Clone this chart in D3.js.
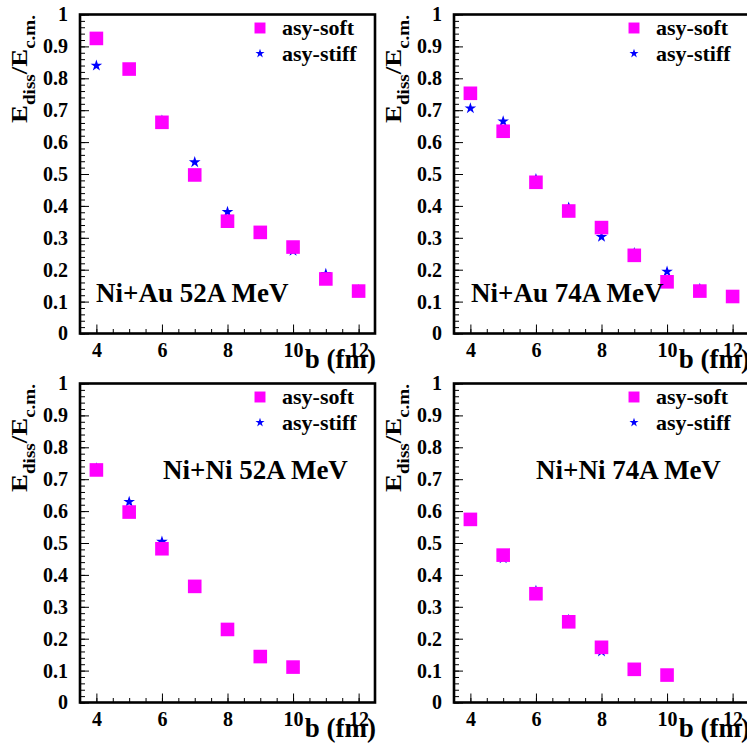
<!DOCTYPE html>
<html>
<head>
<meta charset="utf-8">
<script src="https://cdn.jsdelivr.net/npm/d3@7"></script>
</head>
<body style="margin:0;background:#fff">
<svg id="chart" width="747" height="753" font-family="Liberation Serif" font-weight="bold" style="display:block"></svg>
<script>
// impact parameter b (fm)
const impactAu = [4, 5, 6, 7, 8, 9, 10, 11, 12];
const impactNi = [4, 5, 6, 7, 8, 9, 10];

// E_diss / E_c.m.
const niAu52Soft  = [0.925, 0.829, 0.662, 0.497, 0.352, 0.317, 0.271, 0.171, 0.133];
const niAu52Stiff = [0.840, 0.826, 0.667, 0.537, 0.381, 0.318, 0.259, 0.187, 0.136];
const niAu74Soft  = [0.753, 0.634, 0.474, 0.384, 0.332, 0.245, 0.162, 0.133, 0.116];
const niAu74Stiff = [0.706, 0.665, 0.484, 0.395, 0.303, 0.252, 0.194, 0.140, 0.112];
const niNi52Soft  = [0.729, 0.597, 0.482, 0.364, 0.229, 0.144, 0.111];
const niNi52Stiff = [0.734, 0.629, 0.504, 0.365, 0.230, 0.145, 0.110];
const niNi74Soft  = [0.574, 0.462, 0.341, 0.253, 0.173, 0.104, 0.086];
const niNi74Stiff = [0.574, 0.452, 0.350, 0.259, 0.160, 0.105, 0.085];

const seriesNames = ["asy-soft", "asy-stiff"];
const xTicks = [4, 6, 8, 10, 12];
const yTicks = [0, 0.1, 0.2, 0.3, 0.4, 0.5, 0.6, 0.7, 0.8, 0.9, 1];

const panels = [
  { label: "Ni+Au 52A MeV", b: impactAu, soft: niAu52Soft, stiff: niAu52Stiff, col: 0, row: 0, lx: 16, ly: 287.5 },
  { label: "Ni+Au 74A MeV", b: impactAu, soft: niAu74Soft, stiff: niAu74Stiff, col: 1, row: 0, lx: 17, ly: 287.5 },
  { label: "Ni+Ni 52A MeV", b: impactNi, soft: niNi52Soft, stiff: niNi52Stiff, col: 0, row: 1, lx: 83, ly: 95 },
  { label: "Ni+Ni 74A MeV", b: impactNi, soft: niNi74Soft, stiff: niNi74Stiff, col: 1, row: 1, lx: 82, ly: 95 }
];

const svg = d3.select("#chart");
const frameW = 295, frameH = 319;
const lefts = [80, 454], tops = [14.5, 383.5];
const FONT = "Liberation Serif";

const softColor = "#ff00ff", stiffColor = "#0000ff";
const square = d3.symbol().type(d3.symbolSquare);
const star = d3.symbol().type(d3.symbolStar);

panels.forEach((p) => {
  const L = lefts[p.col], T = tops[p.row];
  const g = svg.append("g").attr("transform", `translate(${L},${T})`);

  const x = d3.scaleLinear().domain([3.5, 12.5]).range([0, frameW]);
  const y = d3.scaleLinear().domain([0, 1]).range([frameH, 0]);

  // minor ticks
  g.append("g")
    .attr("transform", `translate(0,${frameH})`)
    .call(d3.axisBottom(x).tickValues(d3.range(4, 12.51, 0.5)).tickSize(-4.5).tickFormat(""))
    .call((a) => a.select(".domain").remove());
  g.append("g")
    .call(d3.axisLeft(y).tickValues(d3.range(0, 1.001, 0.02)).tickSize(-5).tickFormat(""))
    .call((a) => a.select(".domain").remove());

  // major ticks + labels
  const xa = g.append("g")
    .attr("transform", `translate(0,${frameH})`)
    .call(d3.axisBottom(x).tickValues(xTicks).tickSize(-9).tickPadding(9).tickFormat(d3.format("d")));
  const ya = g.append("g")
    .call(d3.axisLeft(y).tickValues(yTicks).tickSize(-9).tickPadding(12).tickFormat((d) => d === 0 || d === 1 ? d3.format("d")(d) : d3.format(".1f")(d)));
  [xa, ya].forEach((a) => {
    a.attr("font-family", FONT).attr("font-size", 20).attr("font-weight", "bold");
    a.select(".domain").remove();
    a.selectAll("text").attr("fill", "#000");
  });
  xa.selectAll("text").attr("dy", null).attr("y", 23.5);
  g.selectAll(".tick line").attr("stroke", "#000").attr("stroke-width", 1);

  // frame
  g.append("rect")
    .attr("width", frameW).attr("height", frameH)
    .attr("fill", "none").attr("stroke", "#000").attr("stroke-width", 2.6);

  // data: stars first, squares on top
  g.selectAll(".stiff").data(p.b.map((b, i) => [b, p.stiff[i]])).enter()
    .append("path").attr("class", "stiff")
    .attr("d", star.size(42))
    .attr("transform", (d) => `translate(${x(d[0])},${y(d[1])})`)
    .attr("fill", stiffColor);
  g.selectAll(".soft").data(p.b.map((b, i) => [b, p.soft[i]])).enter()
    .append("path").attr("class", "soft")
    .attr("d", square.size(185))
    .attr("transform", (d) => `translate(${x(d[0])},${y(d[1])})`)
    .attr("fill", softColor);

  // legend
  const leg = g.append("g").attr("transform", "translate(180,0)");
  leg.append("path").attr("d", square.size(120)).attr("transform", "translate(0,13.5)").attr("fill", softColor);
  leg.append("path").attr("d", star.size(26)).attr("transform", "translate(0,39)").attr("fill", stiffColor);
  leg.selectAll("text.leg").data(seriesNames).enter()
    .append("text").attr("class", "leg")
    .attr("x", 22).attr("y", (d, i) => 20.5 + i * 26)
    .attr("font-family", FONT).attr("font-size", 22)
    .text((d) => d);

  // reaction label
  g.append("text")
    .attr("x", p.lx).attr("y", p.ly)
    .attr("font-family", FONT).attr("font-size", 27)
    .text(p.label);

  // x title
  g.append("text")
    .attr("x", frameW + 1).attr("y", frameH + 34)
    .attr("text-anchor", "end")
    .attr("font-family", FONT).attr("font-size", 27)
    .text("b (fm)");

  // y title, stretched along its length like the original
  const yt = g.append("g").attr("transform", `translate(-53,0.5) rotate(-90)`);
  const t = yt.append("text").attr("font-family", FONT).attr("font-size", 24).attr("text-anchor", "end");
  t.append("tspan").text("E");
  t.append("tspan").attr("font-size", 17).attr("dy", 8).text("diss");
  t.append("tspan").attr("dy", -8).text("/E");
  t.append("tspan").attr("font-size", 17).attr("dy", 8).text("c.m.");
  const len = t.node().getComputedTextLength();
  t.attr("transform", `scale(${108 / len},1)`);
});
</script>
</body>
</html>
